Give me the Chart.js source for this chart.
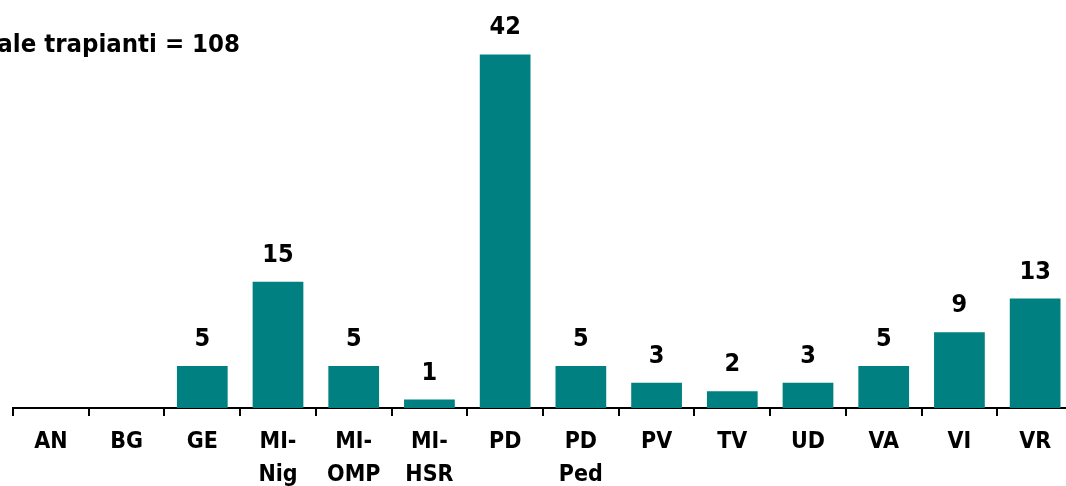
<!DOCTYPE html>
<html>
<head>
    <meta charset="UTF-8">
    <title>Trapianti</title>
    <script src="https://cdn.jsdelivr.net/npm/chart.js"></script>
    <style>
        body { margin: 0; overflow: hidden; background: #fff; }
        #wrap { width: 1073px; height: 502px; }
    </style>
</head>
<body>
<div id="wrap"><canvas id="trapianti"></canvas></div>
<script>
    const centri = [['AN'], ['BG'], ['GE'], ['MI-', 'Nig'], ['MI-', 'OMP'], ['MI-', 'HSR'], ['PD'],
        ['PD', 'Ped'], ['PV'], ['TV'], ['UD'], ['VA'], ['VI'], ['VR']];
    const trapianti = [0, 0, 5, 15, 5, 1, 42, 5, 3, 2, 3, 5, 9, 13];
    const titolo = 'Totale trapianti = 108';

    const fontName = '"DejaVu Sans Condensed", "DejaVu Sans", sans-serif';

    // values above bars + title text
    const etichette = {
        id: 'etichette',
        afterDatasetsDraw(chart) {
            const ctx = chart.ctx;
            ctx.save();
            ctx.fillStyle = '#000';
            ctx.font = 'bold 25px ' + fontName;
            ctx.textAlign = 'center';
            ctx.textBaseline = 'alphabetic';
            chart.getDatasetMeta(0).data.forEach((bar, i) => {
                if (trapianti[i] > 0) {
                    ctx.fillText(trapianti[i], bar.x, bar.y - 20);
                }
            });
            ctx.font = 'bold 25.5px ' + fontName;
            ctx.textAlign = 'right';
            ctx.fillText(titolo, 240, 52);
            ctx.restore();
        }
    };

    const ctx = document.getElementById('trapianti').getContext('2d');
    window.chart = new Chart(ctx, {
        type: 'bar',
        data: {
            labels: centri,
            datasets: [{
                data: trapianti,
                backgroundColor: '#008080',
                barPercentage: 0.67,
                categoryPercentage: 1.0
            }]
        },
        options: {
            responsive: true,
            maintainAspectRatio: false,
            animation: false,
            layout: { padding: { left: 13, top: 4, right: 0, bottom: 0 } },
            plugins: {
                legend: { display: false },
                tooltip: { enabled: false }
            },
            scales: {
                x: {
                    grid: {
                        offset: true,
                        drawOnChartArea: false,
                        color: '#000',
                        lineWidth: 2,
                        tickLength: 8
                    },
                    border: { display: true, color: '#000', width: 2 },
                    ticks: {
                        color: '#000',
                        autoSkip: false,
                        maxRotation: 0,
                        padding: 10,
                        font: { family: fontName, size: 23, weight: 'bold', lineHeight: 1.435 }
                    }
                },
                y: {
                    display: false,
                    min: 0,
                    max: 48
                }
            }
        },
        plugins: [etichette]
    });
</script>
</body>
</html>
